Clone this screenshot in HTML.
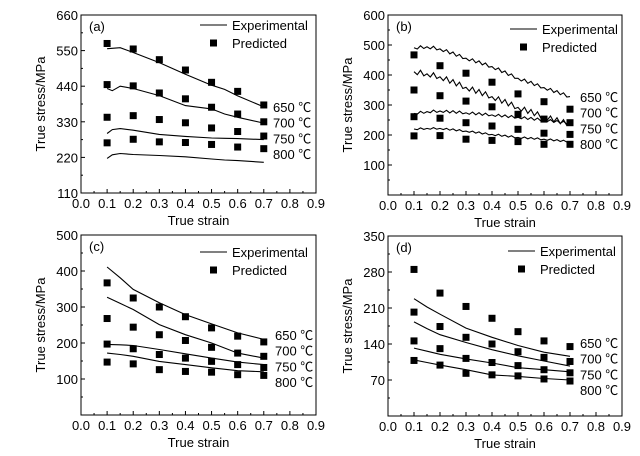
<!DOCTYPE html>
<html><head><meta charset="utf-8"><style>
html,body{margin:0;padding:0;background:#fff;}
svg{display:block;font-family:"Liberation Sans","Noto Sans CJK SC",sans-serif;}
</style></head><body>
<svg id="fig" width="640" height="456" viewBox="0 0 640 456" xmlns="http://www.w3.org/2000/svg"></svg>
<script>
const strains = [0.1,0.2,0.3,0.4,0.5,0.6,0.7];
const temps = ["650 ℃","700 ℃","750 ℃","800 ℃"];
const xTicks = [0.0,0.1,0.2,0.3,0.4,0.5,0.6,0.7,0.8,0.9];
// panel a
const aYTicks = [110,220,330,440,550,660];
const aPred650 = [572,555,522,490,452,424,382];
const aPred700 = [445,441,419,401,375,354,330];
const aPred750 = [344,349,337,327,311,300,286];
const aPred800 = [265,276,268,266,260,252,247];
const aExpX = [0.1,0.12,0.15,0.2,0.3,0.4,0.5,0.55,0.6,0.7];
const aExp650 = [556,557,559,544,513,477,443,430,410,376];
const aExp700 = [433,426,440,433,411,380,370,354,344,326];
const aExp750 = [294,306,309,304,291,285,280,279,278,275];
const aExp800 = [217,228,232,229,226,222,215,212,210,205];
// panel b
const bYTicks = [100,200,300,400,500,600];
const bPred650 = [467,431,406,376,337,311,286];
const bPred700 = [350,331,313,294,269,253,241];
const bPred750 = [261,256,241,230,219,206,202];
const bPred800 = [197,198,186,182,178,169,169];
const bExpX = [0.1,0.15,0.2,0.3,0.4,0.5,0.6,0.7];
const bExp650 = [491,494,487,456,428,389,358,328];
const bExp700 = [411,404,394,359,328,292,261,237];
const bExp750 = [272,278,280,274,267,259,250,239];
const bExp800 = [220,222,222,213,202,192,186,178];
// panel c
const cYTicks = [100,200,300,400,500];
const cPred650 = [367,325,300,273,242,219,203];
const cPred700 = [268,244,223,207,188,172,163];
const cPred750 = [197,184,168,158,149,140,132];
const cPred800 = [147,142,126,121,119,112,110];
const cExpX = [0.1,0.15,0.2,0.3,0.4,0.5,0.6,0.7];
const cExp650 = [411,381,349,312,279,253,228,210];
const cExp700 = [327,310,293,251,223,200,172,158];
const cExp750 = [196,195,193,182,170,158,147,140];
const cExp800 = [172,168,163,149,140,131,123,120];
// panel d
const dYTicks = [70,140,210,280,350];
const dPred650 = [285,239,213,190,164,146,135];
const dPred700 = [202,174,153,140,125,114,106];
const dPred750 = [146,131,112,104,98,90,84];
const dPred800 = [108,99,83,80,78,72,68];
const dExpX = [0.1,0.15,0.2,0.3,0.4,0.5,0.6,0.7];
const dExp650 = [228,212,198,171,153,137,124,116];
const dExp700 = [183,170,158,143,129,117,107,97];
const dExp750 = [132,126,120,111,103,94,90,86];
const dExp800 = [109,104,99,90,80,77,73,70];

const NS="http://www.w3.org/2000/svg";
const svg=document.getElementById('fig');
function mk(tag,attrs,parent){const e=document.createElementNS(NS,tag);for(const k in attrs)e.setAttribute(k,attrs[k]);(parent||svg).appendChild(e);return e;}

function panel(cfg){
  const g=mk('g',{});
  
  
  const xs=v=>cfg.L+(v/0.9)*(cfg.R-cfg.L);
  const ys=v=>cfg.B-(v-cfg.ymin)/(cfg.ymax-cfg.ymin)*(cfg.B-cfg.T);
  const frame=mk('rect',{x:cfg.L,y:cfg.T,width:cfg.R-cfg.L,height:cfg.B-cfg.T,fill:'none',stroke:'#000','stroke-width':1},g);
  
  
  xTicks.forEach((t,i)=>{
    const x=xs(t);
    mk('line',{x1:x,x2:x,y1:cfg.B,y2:cfg.B-4,stroke:'#000'},g);
    if(i<xTicks.length-1){const xm=xs(t+0.05);mk('line',{x1:xm,x2:xm,y1:cfg.B,y2:cfg.B-2,stroke:'#000'},g);}
    const tx=mk('text',{x:x,y:cfg.B+15,'font-size':13,'text-anchor':'middle'},g);
    tx.textContent=t.toFixed(1);
    
    
  });
  const step=cfg.yTicks[1]-cfg.yTicks[0];
  cfg.yTicks.forEach(t=>{
    const y=ys(t);
    mk('line',{x1:cfg.L,x2:cfg.L+4,y1:y,y2:y,stroke:'#000'},g);
    if(t-step/2>=cfg.ymin){const ym=ys(t-step/2);mk('line',{x1:cfg.L,x2:cfg.L+2,y1:ym,y2:ym,stroke:'#000'},g);}
    const tx=mk('text',{x:cfg.L-3,y:y+5,'font-size':13,'text-anchor':'end'},g);
    tx.textContent=t;
    
    
  });
  const xt=mk('text',{x:(cfg.L+cfg.R)/2,y:cfg.B+32,'font-size':13,'text-anchor':'middle'},g);
  xt.textContent='True strain';
  
  
  const yt=mk('text',{x:0,y:0,'font-size':13,'text-anchor':'middle',transform:`translate(${cfg.L-36},${(cfg.T+cfg.B)/2}) rotate(-90)`},g);
  yt.textContent='True stress/MPa';
  
  
  const pl=mk('text',{x:cfg.L+8,y:cfg.T+16,'font-size':13},g);
  pl.textContent='('+cfg.id+')';
  
  
  cfg.exp.forEach((ser,si)=>{
    let d='';
    for(let i=0;i<cfg.expX.length;i++){
      d+=(i?'L':'M')+xs(cfg.expX[i]).toFixed(1)+','+ys(ser[i]).toFixed(1);
      if(cfg.noisy && i<cfg.expX.length-1){
        const n=Math.max(4,Math.round((cfg.expX[i+1]-cfg.expX[i])*80));
        for(let k=1;k<n;k++){
          const f=k/n;
          const xv=cfg.expX[i]+(cfg.expX[i+1]-cfg.expX[i])*f;
          const yv=ser[i]+(ser[i+1]-ser[i])*f;
          const amp=cfg.noisy[si]*(k%2?1:-1);
          d+='L'+xs(xv).toFixed(1)+','+(ys(yv)+amp).toFixed(1);
        }
      }
    }
    const p=mk('path',{d:d,fill:'none',stroke:'#000','stroke-width':1.1},g);
    
    
  });
  cfg.pred.forEach((ser,si)=>{
    ser.forEach((v,i)=>{
      const r=mk('rect',{x:xs(strains[i])-3.5,y:ys(v)-3.5,width:7,height:7,fill:'#000'},g);
      
      
    });
  });
  temps.forEach((t,i)=>{
    const tx=mk('text',{x:cfg.tx,y:cfg.ty+i*15.7,'font-size':13},g);
    tx.textContent=t;
    
    
  });
  const lg=mk('g',{},g);
  
  
  mk('line',{x1:cfg.lx,x2:cfg.lx+27,y1:cfg.ly,y2:cfg.ly,stroke:'#000','stroke-width':1.1},lg);
  const e1=mk('text',{x:cfg.lx+32,y:cfg.ly+5,'font-size':13},lg);
  e1.textContent='Experimental';
  
  
  mk('rect',{x:cfg.lx+10,y:cfg.ly+14.5,width:7,height:7,fill:'#000'},lg);
  const e2=mk('text',{x:cfg.lx+32,y:cfg.ly+23,'font-size':13},lg);
  e2.textContent='Predicted';
  
  
}

panel({id:'a',L:81,R:316,T:15,B:193,ymin:110,ymax:660,yTicks:aYTicks,
  expX:aExpX,exp:[aExp650,aExp700,aExp750,aExp800],pred:[aPred650,aPred700,aPred750,aPred800],
  tx:273,ty:112,lx:200,ly:25});
panel({id:'b',L:388,R:622,T:15,B:195,ymin:0,ymax:600,yTicks:bYTicks,
  expX:bExpX,exp:[bExp650,bExp700,bExp750,bExp800],pred:[bPred650,bPred700,bPred750,bPred800],
  noisy:[1.5,2.5,1.2,0.8],tx:580,ty:102,lx:510,ly:29});
panel({id:'c',L:81,R:316,T:235,B:415,ymin:0,ymax:500,yTicks:cYTicks,
  expX:cExpX,exp:[cExp650,cExp700,cExp750,cExp800],pred:[cPred650,cPred700,cPred750,cPred800],
  tx:275,ty:340,lx:200,ly:252});
panel({id:'d',L:388,R:622,T:236,B:416,ymin:0,ymax:350,yTicks:dYTicks,
  expX:dExpX,exp:[dExp650,dExp700,dExp750,dExp800],pred:[dPred650,dPred700,dPred750,dPred800],
  tx:580,ty:348,lx:508,ly:251});
</script>
</body></html>
